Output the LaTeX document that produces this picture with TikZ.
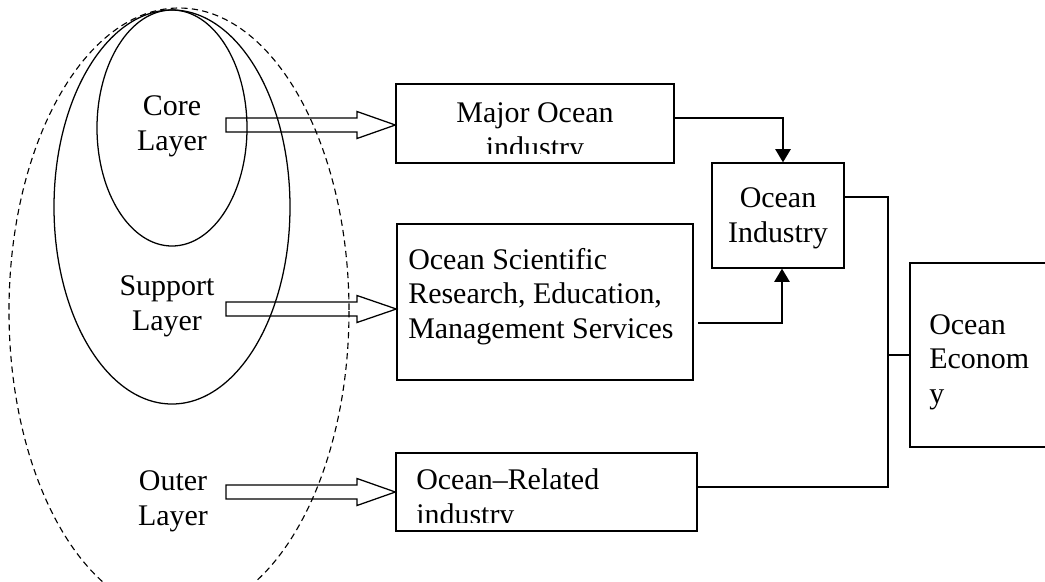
\documentclass[tikz,border=0pt]{standalone}
\usepackage{fontspec}
\setmainfont{Liberation Serif}
\usetikzlibrary{positioning, calc, arrows.meta}

\tikzset{
  layer/.style={line width=0.9pt},
  outerlayer/.style={line width=0.8pt, dash pattern=on 4.5pt off 3pt},
  box/.style={draw, line width=0.9pt, inner sep=0pt},
  lbl/.style={font=\fontsize{21.3}{24.5}\selectfont, inner sep=0pt, align=center},
  hollow/.style={draw, line width=0.9pt},
  conn/.style={line width=1.3pt},
  tip/.style={-{Triangle[length=0.33cm, width=0.38cm]}}
}

\begin{document}
\begin{tikzpicture}[x=0.025cm, y=-0.025cm]

\useasboundingbox (0,0) rectangle (1045,581);
\clip (0,0) rectangle (1045,581);

%//the three layers
\draw[outerlayer] (179,311) ellipse [x radius=170, y radius=303];
\draw[layer] (172,207) ellipse [x radius=118, y radius=197];
\draw[layer] (172,128) ellipse [x radius=75, y radius=118];

%//base anchor sits on the last line
\node[lbl, anchor=base] (core) at (172,150) {Core\\Layer};
\node[lbl, anchor=base] (support) at (167,330) {Support\\Layer};
\node[lbl, anchor=base] (outer) at (173,525) {Outer\\Layer};

%//boxes
\node[box, minimum width=6.95cm, minimum height=1.975cm] (major) at (535,123.5) {};
\node[box, minimum width=7.4cm, minimum height=3.9cm] (sci) at (545,302) {};
\node[box, minimum width=7.525cm, minimum height=1.95cm] (related) at (546.5,492) {};
\node[box, minimum width=3.3cm, minimum height=2.625cm] (oi) at (778,215.5) {};
\node[box, minimum width=5cm, minimum height=4.6cm] (eco) at (1010,355) {};

\begin{scope}
\clip (major.north west) rectangle ([yshift=0.25cm]major.south east);
\node[lbl, anchor=base] (majortxt) at (535,157) {Major Ocean\\industry};
\end{scope}

\node[lbl, align=left, anchor=base west] (scitxt) at (408,338) {Ocean Scientific\\Research, Education,\\Management Services};

\begin{scope}
\clip (related.north west) rectangle ([yshift=0.225cm]related.south east);
\node[lbl, align=left, anchor=base west] (reltxt) at (416,524) {Ocean–Related\\industry};
\end{scope}

\node[lbl, anchor=base] (oitxt) at (778,242) {Ocean\\Industry};
\node[lbl, align=left, anchor=base west] (ecotxt) at (929,403) {Ocean\\Econom\\y};

%//hollow arrows
\foreach \dst/\y in {major/125, sci/309, related/492}
\draw[hollow] (226,\y-7) -- (357,\y-7) -- (357,\y-13.5) -- (\dst.west |- 0,\y)
  -- (357,\y+13.5) -- (357,\y+7) -- (226,\y+7) -- cycle;

%//connectors
\coordinate (bus) at (888,355);
\draw[conn, tip] ([yshift=0.14cm]major.east) -| ([xshift=0.125cm]oi.north);
\draw[conn, tip] ([xshift=0.12cm, yshift=-0.525cm]sci.east) -| ([xshift=0.1cm]oi.south);
\draw[conn] ([yshift=0.46cm]oi.east) -| (bus) -- (eco.west);
\draw[conn] ([yshift=0.125cm]related.east) -| (bus);

\end{tikzpicture}
\end{document}
